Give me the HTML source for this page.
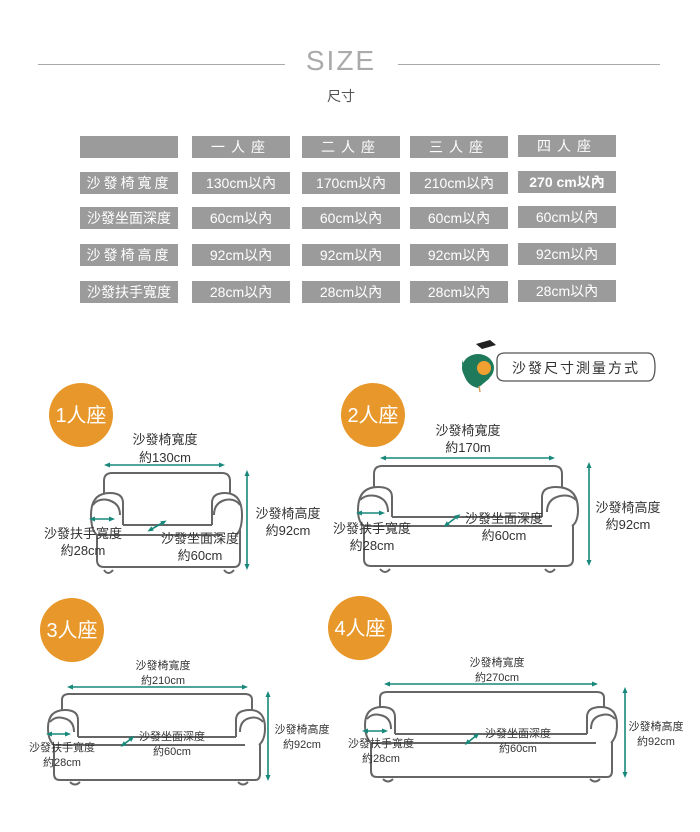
<!DOCTYPE html>
<html><head><meta charset="utf-8"><style>
body{margin:0;width:700px;height:832px;background:#fff;overflow:hidden;font-family:"Liberation Sans","Noto Sans CJK TC",sans-serif;position:relative}
.c{position:absolute;background:#9b9b9b;color:#fff;font-size:14px;height:22px;line-height:22px;text-align:center}
</style></head><body>
<div style="position:absolute;left:38px;top:64px;width:247px;height:1px;background:#aaa"></div>
<div style="position:absolute;left:398px;top:64px;width:262px;height:1px;background:#aaa"></div>
<div style="position:absolute;left:291px;top:45px;width:100px;text-align:center;font-size:28px;letter-spacing:2px;color:#aaa;font-weight:100">SIZE</div>
<div style="position:absolute;left:291px;top:86px;width:100px;text-align:center;font-size:14px;color:#555">尺寸</div>

<div class="c" style="left:80px;top:136px;width:98px"></div>
<div class="c" style="left:192px;top:136px;width:98px;letter-spacing:6px">一人座</div>
<div class="c" style="left:302px;top:136px;width:98px;letter-spacing:6px">二人座</div>
<div class="c" style="left:410px;top:136px;width:98px;letter-spacing:6px">三人座</div>
<div class="c" style="left:518px;top:135px;width:98px;letter-spacing:6px">四人座</div>

<div class="c" style="left:80px;top:172px;width:98px;letter-spacing:3px">沙發椅寬度</div>
<div class="c" style="left:192px;top:172px;width:98px">130cm以內</div>
<div class="c" style="left:302px;top:172px;width:98px">170cm以內</div>
<div class="c" style="left:410px;top:172px;width:98px">210cm以內</div>
<div class="c" style="left:518px;top:171px;width:98px;font-weight:bold">270 cm以內</div>

<div class="c" style="left:80px;top:207px;width:98px">沙發坐面深度</div>
<div class="c" style="left:192px;top:207px;width:98px">60cm以內</div>
<div class="c" style="left:302px;top:207px;width:98px">60cm以內</div>
<div class="c" style="left:410px;top:207px;width:98px">60cm以內</div>
<div class="c" style="left:518px;top:206px;width:98px">60cm以內</div>

<div class="c" style="left:80px;top:244px;width:98px;letter-spacing:3px">沙發椅高度</div>
<div class="c" style="left:192px;top:244px;width:98px">92cm以內</div>
<div class="c" style="left:302px;top:244px;width:98px">92cm以內</div>
<div class="c" style="left:410px;top:244px;width:98px">92cm以內</div>
<div class="c" style="left:518px;top:243px;width:98px">92cm以內</div>

<div class="c" style="left:80px;top:281px;width:98px">沙發扶手寬度</div>
<div class="c" style="left:192px;top:281px;width:98px">28cm以內</div>
<div class="c" style="left:302px;top:281px;width:98px">28cm以內</div>
<div class="c" style="left:410px;top:281px;width:98px">28cm以內</div>
<div class="c" style="left:518px;top:280px;width:98px">28cm以內</div>

<svg width="700" height="832" style="position:absolute;left:0;top:0" font-family="Liberation Sans, Noto Sans CJK TC, sans-serif">
<defs><marker id="a" markerUnits="userSpaceOnUse" markerWidth="6" markerHeight="6" refX="3" refY="3" orient="auto-start-reverse"><path d="M0,0.5 L6,3 L0,5.5z" fill="#17887a"/></marker></defs>
<!-- mascot -->
<path d="M497,360 Q497,353 505,353 H648 Q655,353 655,367 Q655,381 648,381 H505 Q497,381 497,374 Z" fill="#fff" stroke="#555" stroke-width="1.3"/>
<text x="576" y="373" font-size="14" fill="#333" text-anchor="middle" letter-spacing="2">沙發尺寸測量方式</text>
<ellipse cx="478" cy="368" rx="16" ry="14" fill="#1f7a5c"/>
<path d="M462,360 Q470,385 490,378 L478,388 Q462,385 462,360z" fill="#1f7a5c"/>
<circle cx="484" cy="368" r="7" fill="#f0a030"/>
<path d="M476,344 L490,340 L496,345 L482,349z" fill="#222"/>
<line x1="479" y1="386" x2="480" y2="392" stroke="#d8a060" stroke-width="1.5"/>
<!-- badges -->
<g fill="#e8982a"><circle cx="81" cy="415" r="32"/><circle cx="373" cy="415" r="32"/><circle cx="72" cy="630" r="32"/><circle cx="360" cy="628" r="32"/></g>
<g fill="#fff" font-size="20" text-anchor="middle"><text x="81" y="422">1人座</text><text x="373" y="422">2人座</text><text x="72" y="637">3人座</text><text x="360" y="635">4人座</text></g>

<g fill="#fff" stroke="#666" stroke-width="2" stroke-linejoin="round">
<path d="M104,495 V481 Q104,473 112,473 H222 Q230,473 230,481 V495"/>
<path d="M97,510 V560 Q97,567 104,567 H234 Q240,567 240,560 V510"/>
<path d="M104,570 Q108,576 113,570 M224,570 Q229,576 234,570" fill="none"/>
<path d="M123,525 V503 Q123,493 110,493 Q91,493 91,515 Q91,530 97,535"/>
<path d="M212,525 V503 Q212,493 225,493 Q242,493 242,515 Q242,530 236,535"/>
<path d="M93,505 Q98,498 108,500 Q120,503 120,515" fill="none"/>
<path d="M240,505 Q235,498 225,500 Q214,503 214,515" fill="none"/>
<path d="M123,525 H212 M97,535 H222" fill="none"/>
<path d="M374,487 V474 Q374,466 382,466 H554 Q562,466 562,474 V487"/>
<path d="M364,505 V559 Q364,566 371,566 H566 Q573,566 573,559 V505"/>
<path d="M380,569 Q385,575 390,569 M545,569 Q550,575 555,569" fill="none"/>
<path d="M392,517 V497 Q392,487 378,487 Q358,487 358,510 Q358,522 364,526"/>
<path d="M542,517 V497 Q542,487 556,487 Q578,487 578,510 Q578,522 572,526"/>
<path d="M360,500 Q366,494 376,496 Q388,499 388,512" fill="none"/>
<path d="M576,500 Q570,494 560,496 Q547,499 547,512" fill="none"/>
<path d="M392,517 H542 M364,526 H552" fill="none"/>
<path d="M62,710 V700 Q62,694 69,694 H245 Q252,694 252,700 V710"/>
<path d="M54,725 V774 Q54,780 60,780 H255 Q260,780 260,774 V725"/>
<path d="M70,782 Q75,787 80,782 M238,782 Q243,787 248,782" fill="none"/>
<path d="M78,737 V720 Q78,710 65,710 Q48,710 48,728 Q48,740 54,745"/>
<path d="M236,737 V720 Q236,710 250,710 Q265,710 265,728 Q265,740 259,745"/>
<path d="M50,722 Q55,716 63,718 Q74,720 74,732" fill="none"/>
<path d="M263,722 Q258,716 250,718 Q240,720 240,732" fill="none"/>
<path d="M78,737 H236 M54,745 H245" fill="none"/>
<path d="M380,707 V698 Q380,692 387,692 H597 Q604,692 604,698 V707"/>
<path d="M371,722 V771 Q371,777 377,777 H607 Q612,777 612,771 V722"/>
<path d="M383,779 Q388,784 393,779 M590,779 Q595,784 600,779" fill="none"/>
<path d="M395,734 V717 Q395,707 382,707 Q365,707 365,725 Q365,737 371,743"/>
<path d="M587,734 V717 Q587,707 601,707 Q617,707 617,725 Q617,737 611,743"/>
<path d="M367,719 Q372,713 380,715 Q391,717 391,729" fill="none"/>
<path d="M615,719 Q610,713 602,715 Q591,717 591,729" fill="none"/>
<path d="M395,734 H587 M371,743 H596" fill="none"/>
</g>

<g stroke="#17887a" stroke-width="1.6" marker-start="url(#a)" marker-end="url(#a)">
<line x1="107" y1="465" x2="222" y2="465"/><line x1="247" y1="473" x2="247" y2="567"/>
<line x1="92" y1="519" x2="112" y2="519"/><line x1="150" y1="530" x2="164" y2="522"/>
<line x1="383" y1="458" x2="552" y2="458"/><line x1="589" y1="465" x2="589" y2="563"/>
<line x1="359" y1="513" x2="382" y2="513"/><line x1="446" y1="525" x2="458" y2="516"/>
<line x1="70" y1="687" x2="245" y2="687"/><line x1="268" y1="694" x2="268" y2="778"/>
<line x1="49" y1="734" x2="68" y2="734"/><line x1="123" y1="745" x2="132" y2="738"/>
<line x1="387" y1="684" x2="595" y2="684"/><line x1="625" y1="690" x2="625" y2="775"/>
<line x1="365" y1="731" x2="385" y2="731"/><line x1="467" y1="743" x2="477" y2="735"/>
</g>

<g fill="#333" text-anchor="middle" font-size="13">
<text x="165" y="444">沙發椅寬度</text><text x="165" y="462">約130cm</text>
<text x="288" y="518">沙發椅高度</text><text x="288" y="535">約92cm</text>
<text x="83" y="538">沙發扶手寬度</text><text x="83" y="555">約28cm</text>
<text x="200" y="543">沙發坐面深度</text><text x="200" y="560">約60cm</text>
<text x="468" y="435">沙發椅寬度</text><text x="468" y="452">約170m</text>
<text x="628" y="512">沙發椅高度</text><text x="628" y="529">約92cm</text>
<text x="372" y="533">沙發扶手寬度</text><text x="372" y="550">約28cm</text>
<text x="504" y="523">沙發坐面深度</text><text x="504" y="540">約60cm</text>
</g>
<g fill="#333" text-anchor="middle" font-size="11">
<text x="163" y="669">沙發椅寬度</text><text x="163" y="684">約210cm</text>
<text x="302" y="733">沙發椅高度</text><text x="302" y="748">約92cm</text>
<text x="62" y="751">沙發扶手寬度</text><text x="62" y="766">約28cm</text>
<text x="172" y="740">沙發坐面深度</text><text x="172" y="755">約60cm</text>
<text x="497" y="666">沙發椅寬度</text><text x="497" y="681">約270cm</text>
<text x="656" y="730">沙發椅高度</text><text x="656" y="745">約92cm</text>
<text x="381" y="747">沙發扶手寬度</text><text x="381" y="762">約28cm</text>
<text x="518" y="737">沙發坐面深度</text><text x="518" y="752">約60cm</text>
</g>
</svg>
</body></html>
